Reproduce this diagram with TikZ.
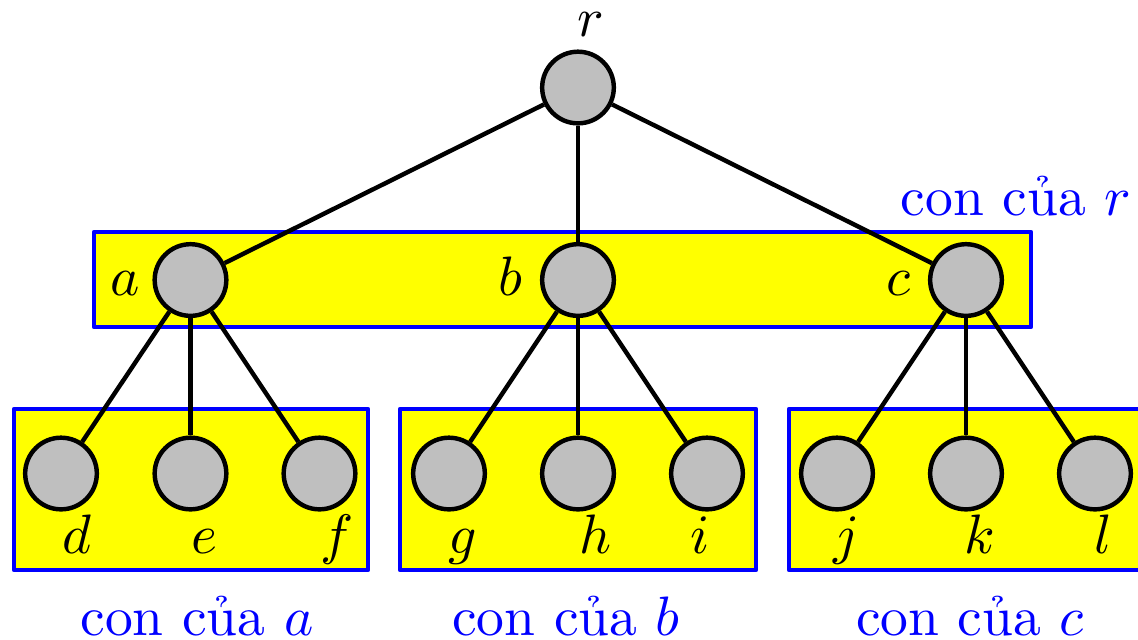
\documentclass[tikz,border=0pt]{standalone}
\definecolor{boxyellow}{RGB}{255,255,0}
\definecolor{boxblue}{RGB}{0,0,255}
\definecolor{vertgray}{RGB}{191,191,191}
\tikzset{
  vert/.style={circle, draw=black, fill=vertgray, line width=0.8pt, minimum size=12.9pt, inner sep=0pt},
  grp/.style={draw=boxblue, fill=boxyellow, line width=0.8pt, line join=round},
  link/.style={draw=black, line width=0.8pt},
  lbl/.style={inner sep=0pt, anchor=base},
  grplbl/.style={text=boxblue, inner sep=0pt, anchor=base},
}
\begin{document}
\begin{tikzpicture}[x=0.18pt, y=-0.18pt]
\clip (0,0) rectangle (1138,639);
% group boxes
\draw[grp] (94,232) rectangle (1031,327);
\draw[grp] (14,409) rectangle (368,570);
\draw[grp] (400,409) rectangle (756,570);
\draw[grp] (789,409) rectangle (1145,570);
% vertices
\node[vert] (r) at (578,87.5) {};
\node[vert] (a) at (190.5,280) {};
\node[vert] (b) at (578,280) {};
\node[vert] (c) at (966,280) {};
\node[vert] (d) at (61,473.5) {};
\node[vert] (e) at (190.5,473.5) {};
\node[vert] (f) at (319.5,473.5) {};
\node[vert] (g) at (449,473.5) {};
\node[vert] (h) at (578,473.5) {};
\node[vert] (i) at (707,473.5) {};
\node[vert] (j) at (837,473.5) {};
\node[vert] (k) at (966,473.5) {};
\node[vert] (l) at (1095,473.5) {};
% connectors
\draw[link] (r) -- (a);
\draw[link] (r) -- (b);
\draw[link] (r) -- (c);
\draw[link] (a) -- (d);
\draw[link] (a) -- (e);
\draw[link] (a) -- (f);
\draw[link] (b) -- (g);
\draw[link] (b) -- (h);
\draw[link] (b) -- (i);
\draw[link] (c) -- (j);
\draw[link] (c) -- (k);
\draw[link] (c) -- (l);
% vertex labels
\node[lbl] (lr) at (591,36) {$r$};
\node[lbl] (la) at (125,295) {$a$};
\node[lbl] (lb) at (510,295) {$b$};
\node[lbl] (lc) at (899,295) {$c$};
\node[lbl] (ld) at (77,553) {$d$};
\node[lbl] (le) at (204,553) {$e$};
\node[lbl] (lf) at (337,553) {$f$};
\node[lbl] (lg) at (463,553) {$g$};
\node[lbl] (lh) at (596,553) {$h$};
\node[lbl] (li) at (700,553) {$i$};
\node[lbl] (lj) at (847,553) {$j$};
\node[lbl] (lk) at (980,553) {$k$};
\node[lbl] (ll) at (1103,553) {$l$};
% group labels
\node[grplbl] (gr) at (1016,215) {con của $r$};
\node[grplbl] (ga) at (197,635) {con của $a$};
\node[grplbl] (gb) at (566,635) {con của $b$};
\node[grplbl] (gc) at (970,635) {con của $c$};
\end{tikzpicture}
\end{document}
